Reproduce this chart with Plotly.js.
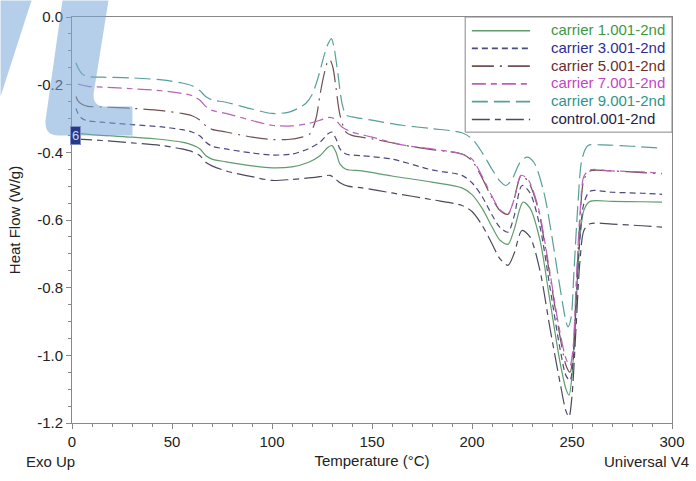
<!DOCTYPE html>
<html>
<head>
<meta charset="utf-8">
<script src="https://cdn.plot.ly/plotly-3.0.1.min.js"></script>
<style>
  body { margin: 0; background: white; }
  #graph { width: 696px; height: 481px; }
</style>
</head>
<body>
<div id="graph"></div>
<script>
// DSC 2nd heating scans, temperature (°C) vs heat flow (W/g)
const tC1 = [1, 15, 30, 45, 55, 60, 64, 67, 70, 77, 90, 100, 110, 118, 124, 128, 130, 132, 134, 137, 145, 160, 180, 195, 200, 205, 210, 214, 218, 221, 225.5, 229, 234, 239, 244, 247, 248.5, 250, 252, 254, 256, 259, 270, 285, 295];
const yC1 = [-0.343, -0.35, -0.355, -0.362, -0.37, -0.378, -0.39, -0.41, -0.42, -0.428, -0.44, -0.446, -0.443, -0.43, -0.41, -0.385, -0.38, -0.40, -0.435, -0.45, -0.455, -0.47, -0.488, -0.505, -0.525, -0.565, -0.62, -0.66, -0.672, -0.63, -0.547, -0.565, -0.66, -0.84, -1.02, -1.10, -1.118, -1.06, -0.86, -0.65, -0.57, -0.545, -0.545, -0.546, -0.547];

const tC3 = [2, 3, 5, 8, 15, 30, 45, 55, 60, 64, 67, 70, 77, 90, 100, 110, 118, 124, 128, 130, 132, 134, 137, 145, 160, 180, 195, 200, 205, 210, 214, 218, 221, 225, 229, 234, 239, 244, 247, 249, 250.5, 252, 254, 256, 259, 270, 285, 295];
const yC3 = [-0.27, -0.285, -0.30, -0.307, -0.311, -0.318, -0.325, -0.333, -0.34, -0.352, -0.37, -0.382, -0.39, -0.402, -0.408, -0.405, -0.39, -0.37, -0.345, -0.34, -0.36, -0.39, -0.405, -0.41, -0.42, -0.452, -0.468, -0.49, -0.53, -0.585, -0.622, -0.636, -0.59, -0.498, -0.52, -0.62, -0.80, -0.98, -1.06, -1.074, -1.02, -0.85, -0.65, -0.55, -0.515, -0.518, -0.521, -0.524];

const tC5 = [2, 3, 5, 8, 15, 30, 45, 55, 60, 64, 67, 70, 77, 90, 100, 108, 115, 119, 122, 124, 126, 128, 129, 130.5, 132, 134, 137, 140, 150, 165, 180, 195, 200, 205, 210, 214, 218, 221, 224.5, 228, 233, 238, 243, 247, 249, 250.5, 252, 254, 256, 259, 270, 285, 295];
const yC5 = [-0.235, -0.248, -0.258, -0.264, -0.266, -0.27, -0.277, -0.285, -0.292, -0.305, -0.322, -0.332, -0.34, -0.355, -0.362, -0.362, -0.355, -0.345, -0.30, -0.23, -0.17, -0.13, -0.127, -0.15, -0.21, -0.29, -0.34, -0.35, -0.36, -0.378, -0.392, -0.405, -0.425, -0.475, -0.535, -0.572, -0.583, -0.54, -0.47, -0.485, -0.565, -0.73, -0.91, -1.03, -1.05, -1.0, -0.82, -0.6, -0.48, -0.455, -0.455, -0.46, -0.463];

const tC7 = [3, 8, 15, 30, 45, 55, 60, 64, 67, 70, 77, 90, 100, 110, 118, 124, 128, 131, 135, 140, 150, 165, 180, 195, 200, 205, 210, 214, 218, 221, 224.5, 228, 233, 238, 243, 247, 249, 250.5, 252, 254, 256, 259, 270, 285, 295];
const yC7 = [-0.198, -0.205, -0.207, -0.212, -0.218, -0.226, -0.232, -0.246, -0.265, -0.276, -0.285, -0.306, -0.32, -0.322, -0.315, -0.305, -0.297, -0.30, -0.325, -0.34, -0.355, -0.378, -0.39, -0.405, -0.42, -0.47, -0.53, -0.57, -0.581, -0.54, -0.468, -0.48, -0.56, -0.72, -0.9, -1.01, -1.03, -0.98, -0.80, -0.58, -0.47, -0.452, -0.455, -0.458, -0.462];

const tC9 = [2, 3, 5, 8, 15, 30, 45, 55, 60, 64, 67, 70, 77, 90, 100, 108, 113, 117, 120, 123, 126, 128, 129.7, 131, 133, 135, 137, 140, 150, 165, 180, 195, 200, 205, 210, 214, 217, 220, 224, 227.5, 231, 236, 240, 244, 247, 248, 249.5, 251, 253, 255, 258, 265, 280, 295];
const yC9 = [-0.135, -0.15, -0.168, -0.176, -0.178, -0.180, -0.186, -0.195, -0.203, -0.218, -0.236, -0.245, -0.252, -0.272, -0.285, -0.282, -0.27, -0.255, -0.23, -0.18, -0.115, -0.08, -0.064, -0.09, -0.17, -0.255, -0.29, -0.295, -0.305, -0.32, -0.33, -0.342, -0.36, -0.40, -0.45, -0.485, -0.498, -0.48, -0.43, -0.414, -0.43, -0.52, -0.65, -0.80, -0.90, -0.916, -0.89, -0.75, -0.55, -0.42, -0.38, -0.378, -0.382, -0.388];

const tCtl = [1, 15, 30, 45, 55, 60, 64, 67, 70, 77, 90, 100, 110, 120, 126, 129, 131, 134, 138, 145, 160, 180, 195, 200, 205, 210, 214, 218, 221, 225, 229, 234, 239, 244, 247, 248.5, 250, 252, 254, 256, 259, 270, 285, 295];
const yCtl = [-0.36, -0.365, -0.372, -0.38, -0.39, -0.398, -0.41, -0.43, -0.44, -0.455, -0.472, -0.483, -0.48, -0.475, -0.47, -0.468, -0.475, -0.49, -0.5, -0.505, -0.52, -0.54, -0.557, -0.575, -0.615, -0.67, -0.715, -0.734, -0.70, -0.631, -0.65, -0.75, -0.92, -1.08, -1.165, -1.182, -1.12, -0.92, -0.72, -0.63, -0.611, -0.612, -0.617, -0.621];

const seriesNames = ['carrier 1.001-2nd', 'carrier 3.001-2nd', 'carrier 5.001-2nd', 'carrier 7.001-2nd', 'carrier 9.001-2nd', 'control.001-2nd'];
const yTickVals = [0, -0.2, -0.4, -0.6, -0.8, -1.0, -1.2];
const yTickText = ['0.0', '-0.2', '-0.4', '-0.6', '-0.8', '-1.0', '-1.2'];

const font = 'Liberation Sans, Arial, sans-serif';
const W = 696, H = 481;
const margin = { l: 71.5, r: 24, t: 16.5, b: 58.3 };

// pixel -> paper helpers for legend box and watermark
const px = v => (v - margin.l) / (W - margin.l - margin.r);
const py = v => (H - margin.b - v) / (H - margin.t - margin.b);

// line colour, legend text colour, dash
const styles = [
    { line: '#5f9c6e', text: '#3c9a44', dash: 'solid' },
    { line: '#4c4c80', text: '#2d2d96', dash: '6px,4px' },
    { line: '#715050', text: '#6a2e2e', dash: '22px,6px,2px,6px' },
    { line: '#b862b8', text: '#c444c4', dash: '14px,5px,6px,5px' },
    { line: '#56a098', text: '#2f958a', dash: '16px,6px' },
    { line: '#4a4a5e', text: '#22224a', dash: '18px,5px,6px,5px' },
];

const xs = [tC1, tC3, tC5, tC7, tC9, tCtl];
const ys = [yC1, yC3, yC5, yC7, yC9, yCtl];

const traces = xs.map((x, i) => ({
    x: x,
    y: ys[i],
    mode: 'lines',
    type: 'scatter',
    name: seriesNames[i],
    showlegend: false,
    line: { color: styles[i].line, width: 1.2, dash: styles[i].dash, shape: 'spline', smoothing: 0.8 },
    hoverinfo: 'none',
}));

// hand-built legend, spacing of the original is tighter than plotly's
const legendRows = [29.3, 46.9, 64.6, 82.4, 100.2, 118];
const shapes = [
    // watermark
    { type: 'path', xref: 'paper', yref: 'paper', layer: 'above', line: { width: 0 }, fillcolor: 'rgba(120,165,215,0.55)',
      path: `M ${px(0)},${py(0)} L ${px(31)},${py(0)} L ${px(0)},${py(96)} Z` },
    { type: 'path', xref: 'paper', yref: 'paper', layer: 'above', line: { width: 0 }, fillcolor: 'rgba(120,165,215,0.55)',
      path: `M ${px(62)},${py(0)} L ${px(108)},${py(0)} L ${px(93)},${py(94)} Q ${px(93)},${py(106)} ${px(104)},${py(106)} L ${px(132)},${py(106)} L ${px(132)},${py(135)} L ${px(58)},${py(135)} Q ${px(44)},${py(135)} ${px(45)},${py(120)} Z` },
    // legend box
    { type: 'rect', xref: 'paper', yref: 'paper', layer: 'above', x0: px(465), x1: 1, y0: py(131.7), y1: 1,
      fillcolor: 'white', line: { color: '#888', width: 1 } },
];
const annotations = [];
seriesNames.forEach((name, i) => {
    shapes.push({ type: 'line', xref: 'paper', yref: 'paper', layer: 'above',
        x0: px(471.7), x1: px(530), y0: py(legendRows[i] + 1), y1: py(legendRows[i] + 1),
        line: { color: styles[i].line, width: 1.6, dash: styles[i].dash } });
    annotations.push({ text: name, xref: 'paper', yref: 'paper', x: px(549), y: py(legendRows[i]),
        xanchor: 'left', yanchor: 'middle', showarrow: false, font: { family: font, size: 15, color: styles[i].text } });
});

annotations.push(
    { text: 'Exo Up', xref: 'paper', yref: 'paper', x: px(23), y: py(461), xanchor: 'left', yanchor: 'middle', showarrow: false, font: { family: font, size: 15, color: '#222' } },
    { text: 'Universal V4', xref: 'paper', yref: 'paper', x: px(691), y: py(461), xanchor: 'right', yanchor: 'middle', showarrow: false, font: { family: font, size: 15, color: '#222' } },
    { text: '6', x: 1.7, y: -0.35, xref: 'x', yref: 'y', showarrow: false, bgcolor: '#263a8a', bordercolor: '#8090c0', borderwidth: 1, borderpad: 1, font: { family: font, size: 13, color: '#c8d8ff' } }
);

const layout = {
    width: W,
    height: H,
    margin: margin,
    paper_bgcolor: 'white',
    plot_bgcolor: 'white',
    font: { family: font, size: 15, color: '#222' },
    showlegend: false,
    xaxis: {
        range: [0, 300],
        dtick: 50,
        ticks: 'outside', ticklen: 5, tickcolor: '#888',
        showline: true, linecolor: '#888', mirror: true,
        showgrid: false, zeroline: false,
        minor: { dtick: 10, ticks: 'outside', ticklen: 3, tickcolor: '#888' },
        tickfont: { family: font, size: 15, color: '#222' },
        title: { text: 'Temperature (°C)', standoff: 6, font: { family: font, size: 15, color: '#222' } },
    },
    yaxis: {
        range: [-1.2, 0],
        tickvals: yTickVals,
        ticktext: yTickText,
        ticks: 'outside', ticklen: 5, tickcolor: '#888',
        showline: true, linecolor: '#888', mirror: true,
        showgrid: false, zeroline: false,
        minor: { dtick: 0.05, ticks: 'outside', ticklen: 3, tickcolor: '#888' },
        tickfont: { family: font, size: 15, color: '#222' },
        title: { text: 'Heat Flow (W/g)', standoff: 12, font: { family: font, size: 15, color: '#222' } },
    },
    shapes: shapes,
    annotations: annotations,
};

Plotly.newPlot('graph', traces, layout, { staticPlot: true });
</script>
</body>
</html>
